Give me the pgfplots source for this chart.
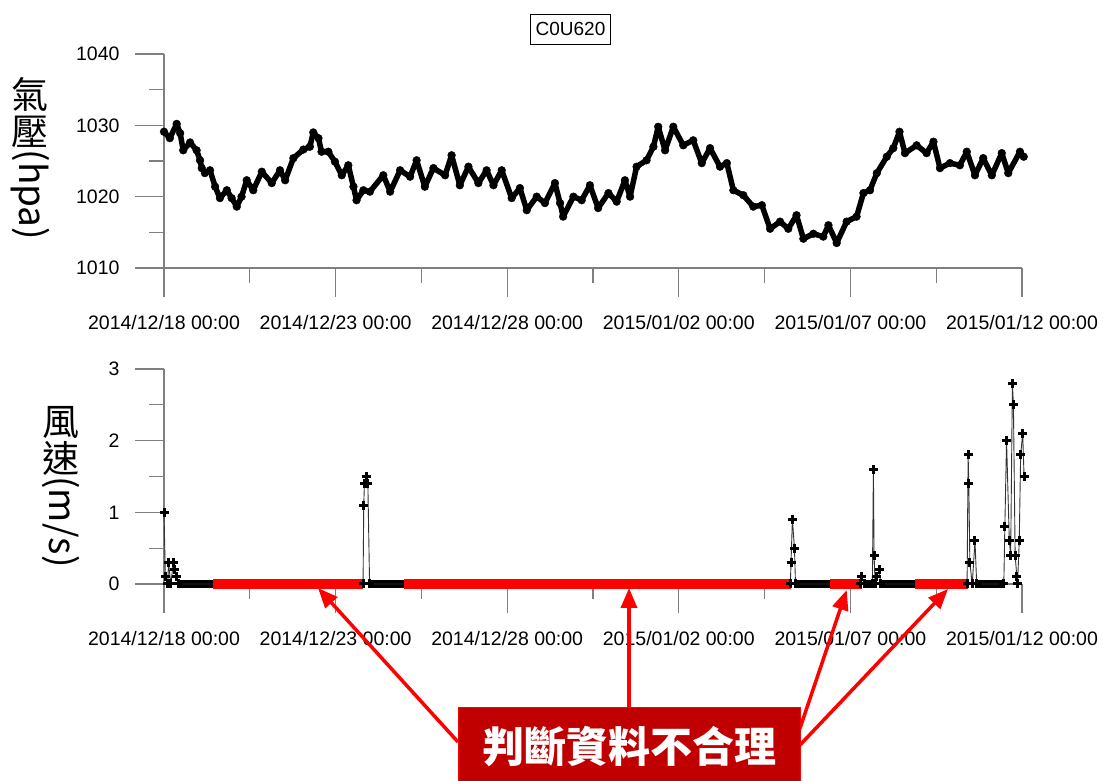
\documentclass[border=0pt]{standalone}
\usepackage{pgfplots}
\usepackage{pgfplotstable}
\pgfplotsset{compat=1.18}
\usepackage{graphicx}
\usepackage{fontspec}
\usetikzlibrary{arrows.meta}
\setmainfont{Liberation Sans}
\newfontfamily\cjk{Noto Sans CJK TC}
\definecolor{axisgray}{HTML}{7F7F7F}
\definecolor{calloutred}{HTML}{C00000}
\definecolor{flagred}{HTML}{FF0000}
\newcommand\tickfont{\fontsize{19.5}{23}\selectfont}
% one upright CJK character inside a vertical (rotated) title
\newcommand\upright[1]{\raisebox{-0.2em}{\rotatebox{90}{\rule[-0.12em]{0pt}{1em}#1}}}

% hourly station pressure (hPa), days since 2014/12/18 00:00
\pgfplotstableread{
day hpa
0.00 1029.1
0.17 1028.2
0.37 1030.2
0.47 1028.9
0.56 1026.5
0.76 1027.6
0.95 1026.5
1.05 1025.1
1.10 1024.0
1.19 1023.3
1.34 1023.7
1.49 1021.4
1.63 1019.8
1.83 1020.9
1.97 1019.8
2.12 1018.6
2.26 1020.0
2.41 1022.3
2.60 1020.9
2.85 1023.5
3.14 1021.9
3.38 1023.7
3.53 1022.3
3.77 1025.4
4.06 1026.6
4.25 1027.0
4.35 1029.0
4.50 1028.2
4.59 1026.3
4.79 1026.3
4.98 1024.9
5.18 1023.0
5.37 1024.4
5.52 1021.4
5.61 1019.5
5.81 1020.9
6.00 1020.7
6.39 1023.0
6.59 1020.7
6.88 1023.7
7.17 1022.8
7.36 1025.1
7.60 1021.4
7.85 1024.0
8.19 1023.0
8.38 1025.8
8.62 1021.6
8.87 1024.2
9.16 1021.9
9.40 1023.7
9.60 1021.6
9.84 1023.7
10.13 1019.8
10.37 1021.2
10.57 1018.1
10.86 1020.0
11.10 1019.1
11.39 1021.9
11.54 1019.1
11.63 1017.2
11.93 1020.0
12.17 1019.5
12.41 1021.6
12.65 1018.4
12.95 1020.5
13.19 1019.3
13.43 1022.3
13.58 1020.0
13.77 1024.2
14.06 1025.1
14.26 1027.0
14.40 1029.8
14.60 1026.5
14.84 1029.8
15.13 1027.2
15.42 1027.9
15.67 1024.7
15.91 1026.8
16.20 1024.2
16.40 1024.7
16.59 1020.9
16.88 1020.2
17.17 1018.6
17.42 1018.8
17.66 1015.5
17.95 1016.5
18.19 1015.5
18.43 1017.4
18.63 1014.1
18.92 1014.8
19.21 1014.4
19.36 1016.0
19.60 1013.5
19.89 1016.5
20.18 1017.2
20.38 1020.5
20.57 1020.9
20.77 1023.3
21.06 1025.6
21.25 1026.8
21.43 1029.1
21.59 1026.1
21.93 1027.2
22.22 1026.1
22.42 1027.7
22.61 1024.0
22.90 1024.7
23.19 1024.4
23.39 1026.3
23.63 1023.0
23.87 1025.4
24.12 1023.0
24.41 1026.1
24.60 1023.3
24.94 1026.3
25.05 1025.6
}\pressure

% wind speed (m/s)
\pgfplotstableread{
day speed
0.00 1.0
0.04 0.1
0.11 0
0.13 0.3
0.20 0
0.27 0.3
0.32 0.2
0.37 0.1
0.41 0
5.80 0
5.82 1.1
5.84 1.4
5.89 1.5
5.94 1.4
5.99 0
18.25 0
18.27 0.3
18.31 0.9
18.37 0.5
18.40 0
20.30 0
20.33 0.1
20.40 0
20.64 0
20.67 1.6
20.69 0.4
20.72 0
20.77 0.1
20.84 0.2
20.88 0
23.40 0
23.43 1.8
23.45 1.4
23.48 0.3
23.55 0
23.63 0.6
23.68 0
24.47 0
24.50 0.8
24.55 2.0
24.63 0.6
24.67 0.4
24.72 2.8
24.75 2.5
24.80 0.4
24.85 0.1
24.87 0
24.92 0.6
24.96 1.8
25.02 2.1
25.06 1.5
}\wind

% runs of calm (0 m/s) readings
\pgfplotstableread{
day speed
0.41 0
1.43 0
nan nan
5.99 0
6.98 0
nan nan
18.40 0
19.41 0
nan nan
20.40 0
20.64 0
nan nan
20.88 0
21.88 0
nan nan
23.68 0
24.47 0
}\calm

% calm runs flagged as unreasonable
\pgfplotstableread{
day speed
1.43 0
5.81 0
nan nan
6.98 0
18.26 0
nan nan
19.41 0
20.33 0
nan nan
21.88 0
23.42 0
}\flagged

\pgfplotsset{
  station axis/.style={
    scale only axis, width=858pt,
    anchor=south west,
    xmin=0, xmax=25,
    axis x line*=bottom, axis y line*=left,
    axis line style={draw=axisgray, line width=1.3pt, -},
    xtick={0,5,10,15,20,25},
    xticklabels={{2014/12/18 00:00},{2014/12/23 00:00},{2014/12/28 00:00},{2015/01/02 00:00},{2015/01/07 00:00},{2015/01/12 00:00}},
    minor x tick num=1, minor y tick num=1,
    tick align=outside,
    major tick length=29pt, minor tick length=15pt,
    tick style={draw=axisgray, line width=1.3pt},
    tick label style={font=\tickfont, text=black},
    xticklabel style={yshift=-15pt},
    yticklabel style={xshift=-12pt},
    /pgf/number format/assume math mode=true,
    /pgf/number format/1000 sep={},
    unbounded coords=jump,
    clip=false,
  }
}

\begin{document}
\begin{tikzpicture}[x=1pt,y=1pt]
\useasboundingbox (0,0) rectangle (1103,781);

% pressure
\begin{axis}[station axis, at={(164pt,513pt)}, height=214pt,
  ymin=1010, ymax=1040, ytick={1010,1020,1030,1040}]
  \addplot[black, line width=5.5pt, line join=round, line cap=round,
    mark=*, mark size=3.9pt, mark options={fill=black, draw=black, line width=0.4pt}]
    table[x=day, y=hpa] {\pressure};
\end{axis}

% wind speed
\begin{axis}[station axis, at={(164pt,197pt)}, height=215pt,
  ymin=0, ymax=3, ytick={0,1,2,3}]
  \addplot[black, line width=8.5pt, line cap=butt] table[x=day, y=speed] {\calm};
  \addplot[black!80, line width=0.9pt,
    mark=+, mark size=4.5pt, mark options={black, line width=3pt}]
    table[x=day, y=speed] {\wind};
  \addplot[flagred, line width=10pt, line cap=butt] table[x=day, y=speed] {\flagged};
\end{axis}

% station name
\node[draw=black, line width=0.8pt, font=\fontsize{19}{22}\selectfont,
  inner xsep=5pt, minimum height=30pt] at (570.5,752) {C0U620};

% axis titles, set vertically
\node[rotate=-90, font=\cjk\fontsize{37}{40}\selectfont] at (30,623)
  {\upright{氣}\upright{壓}(hpa)};
\node[rotate=-90, font=\cjk\fontsize{37}{40}\selectfont] at (61,296)
  {\upright{風}\upright{速}(m/s)};

% callout
\draw[flagred, line width=3.5pt, -{Triangle[length=20pt,width=16pt]}] (458,39) -- (318,193);
\draw[flagred, line width=3.5pt, -{Triangle[length=20pt,width=16pt]}] (629,73) -- (629,193);
\draw[flagred, line width=3.5pt, -{Triangle[length=20pt,width=16pt]}] (797,44) -- (846.7,191);
\draw[flagred, line width=3.5pt, -{Triangle[length=20pt,width=16pt]}] (800,36) -- (948,192);
\fill[calloutred] (458,-5) rectangle (800,73);
\draw[flagred, line width=1pt] (458,-5) -- (458,73) -- (800,73) -- (800,-5);
\node[text=white, font=\cjk\bfseries\fontsize{42}{44}\selectfont] at (629,34) {判斷資料不合理};
\end{tikzpicture}
\end{document}
